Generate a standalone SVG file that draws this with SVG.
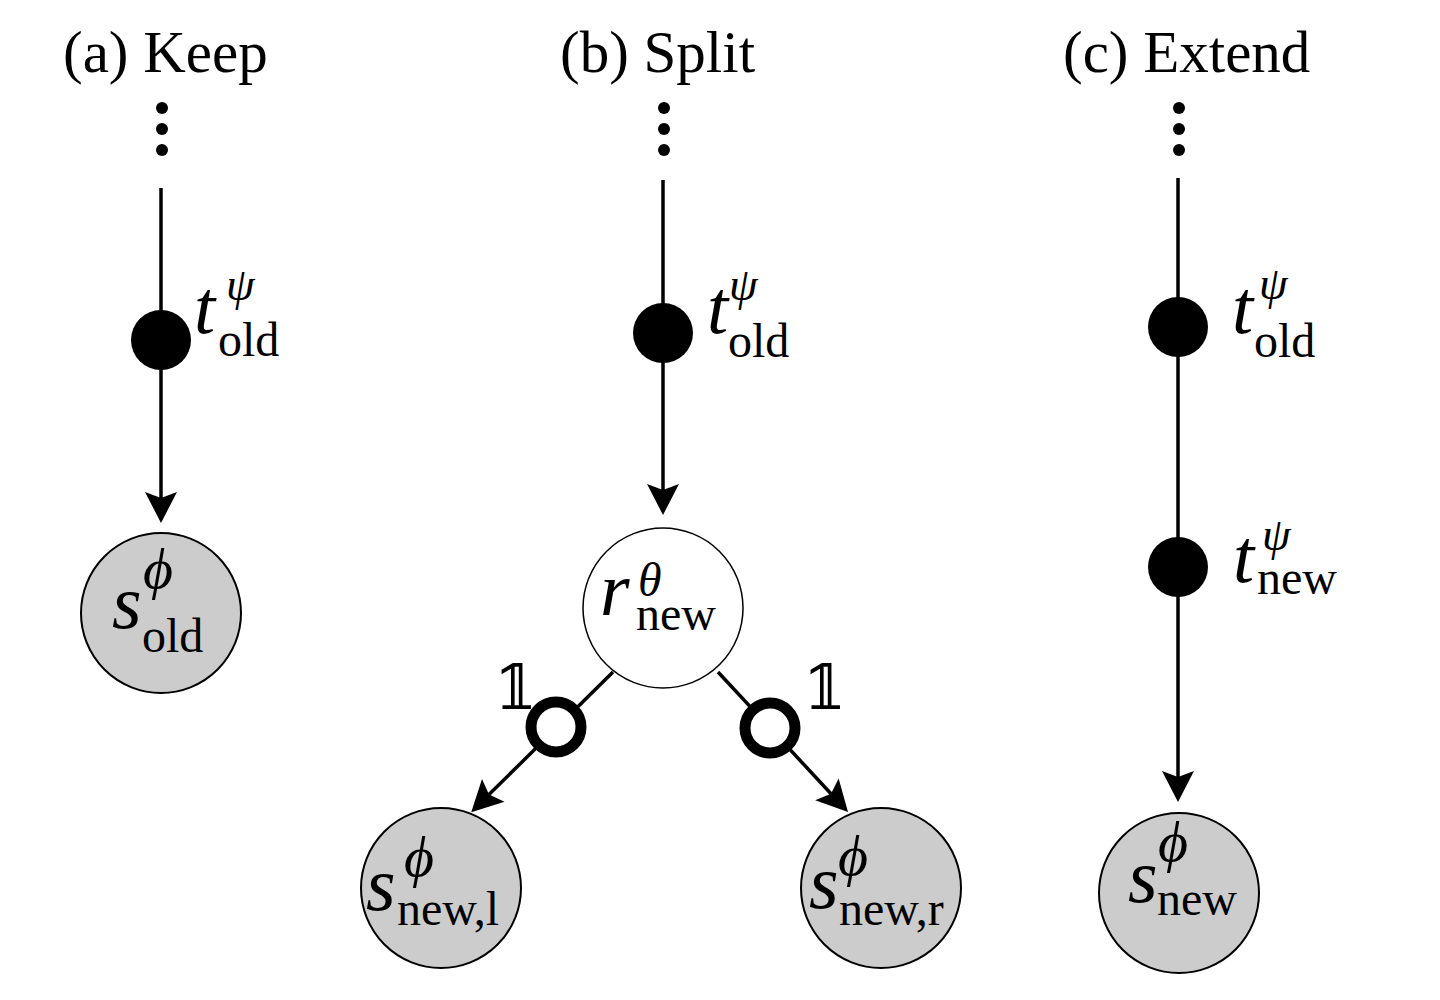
<svg xmlns="http://www.w3.org/2000/svg" width="1440" height="1000" viewBox="0 0 1440 1000">
<defs>
<style>
.ttl{font-family:"Liberation Serif","Times New Roman",serif;font-size:59px;fill:#000}
.it{font-family:"Liberation Serif","Times New Roman",serif;font-style:italic;font-size:76px;fill:#000}
.phi{font-family:"Liberation Serif","Times New Roman",serif;font-style:italic;font-size:58px;fill:#000}
.th{font-family:"Liberation Serif","Times New Roman",serif;font-style:italic;font-size:48px;fill:#000}
.psi{font-family:"Liberation Serif","Times New Roman",serif;font-style:italic;font-size:46px;fill:#000}
.sub{font-family:"Liberation Serif","Times New Roman",serif;font-size:48px;fill:#000}
.one{font-family:"DejaVu Serif","DejaVu Sans",serif;font-size:62px;fill:#000}
.edge{stroke:#000;stroke-width:3.5;fill:none}
.obs{fill:#cccccc;stroke:#000;stroke-width:2}
.lat{fill:#fff;stroke:#000;stroke-width:1.5}
.det{fill:#000}
.ring{fill:#fff;stroke:#000;stroke-width:11}
.dot{fill:#000}
</style>
<marker id="arr" markerUnits="userSpaceOnUse" viewBox="-35 -20 40 40" markerWidth="40" markerHeight="40" refX="-25" refY="0" orient="auto">
<path d="M0,0 L-31,-16 L-25,0 L-31,16 Z" fill="#000"/>
</marker>
</defs>
<rect width="1440" height="1000" fill="#fff"/>

<g id="titles">
<text class="ttl" x="63" y="72">(a) Keep</text>
<text class="ttl" x="560" y="72">(b) Split</text>
<text class="ttl" x="1063" y="72">(c) Extend</text>
</g>

<g id="ellipses">
<circle class="dot" cx="162" cy="108" r="6"/><circle class="dot" cx="162" cy="129" r="6"/><circle class="dot" cx="162" cy="150" r="6"/>
<circle class="dot" cx="664" cy="108" r="6"/><circle class="dot" cx="664" cy="129" r="6"/><circle class="dot" cx="664" cy="150" r="6"/>
<circle class="dot" cx="1179" cy="108" r="6"/><circle class="dot" cx="1179" cy="129" r="6"/><circle class="dot" cx="1179" cy="150" r="6"/>
</g>

<g id="connectors">
<line class="edge" x1="161" y1="188" x2="161" y2="498" marker-end="url(#arr)"/>
<line class="edge" x1="663" y1="180" x2="663" y2="490" marker-end="url(#arr)"/>
<line class="edge" x1="1178" y1="178" x2="1178" y2="777" marker-end="url(#arr)"/>
<line class="edge" x1="613" y1="672" x2="489" y2="794.6" marker-end="url(#arr)"/>
<line class="edge" x1="718" y1="672" x2="831" y2="793.7" marker-end="url(#arr)"/>
</g>

<g id="a-t-old">
<circle class="det" cx="161" cy="340" r="30"/>
<text class="it" x="194" y="333">t</text>
<text class="psi" x="226" y="300">ψ</text>
<text class="sub" x="218" y="356">old</text>
</g>
<g id="a-s-old">
<circle class="obs" cx="161" cy="613" r="80"/>
<text class="it" x="112" y="628">s</text>
<text class="phi" x="143" y="588">ϕ</text>
<text class="sub" x="142" y="652">old</text>
</g>

<g id="b-t-old">
<circle class="det" cx="663" cy="333" r="30"/>
<text class="it" x="707" y="333">t</text>
<text class="psi" x="729" y="300">ψ</text>
<text class="sub" x="728" y="357">old</text>
</g>
<g id="b-r-new">
<circle class="lat" cx="663" cy="608" r="80"/>
<text class="it" x="600" y="615">r</text>
<text class="th" x="638" y="596">θ</text>
<text class="sub" x="636" y="630">new</text>
</g>
<g id="b-ring-l">
<circle class="ring" cx="556" cy="727" r="25"/>
<text class="one" x="494" y="709">𝟙</text>
</g>
<g id="b-ring-r">
<circle class="ring" cx="770" cy="728" r="25"/>
<text class="one" x="803" y="709">𝟙</text>
</g>
<g id="b-s-new-l">
<circle class="obs" cx="441" cy="888" r="80"/>
<text class="it" x="366" y="910">s</text>
<text class="phi" x="404" y="876">ϕ</text>
<text class="sub" x="397" y="925">new,l</text>
</g>
<g id="b-s-new-r">
<circle class="obs" cx="881" cy="888" r="80"/>
<text class="it" x="809" y="908">s</text>
<text class="phi" x="838" y="875">ϕ</text>
<text class="sub" x="839" y="925">new,r</text>
</g>

<g id="c-t-old">
<circle class="det" cx="1178" cy="327" r="30"/>
<text class="it" x="1232" y="333">t</text>
<text class="psi" x="1259" y="299">ψ</text>
<text class="sub" x="1254" y="357">old</text>
</g>
<g id="c-t-new">
<circle class="det" cx="1178" cy="567" r="30"/>
<text class="it" x="1233" y="582">t</text>
<text class="psi" x="1262" y="550">ψ</text>
<text class="sub" x="1257" y="594">new</text>
</g>
<g id="c-s-new">
<circle class="obs" cx="1179" cy="893" r="80"/>
<text class="it" x="1128" y="902">s</text>
<text class="phi" x="1158" y="861">ϕ</text>
<text class="sub" x="1157" y="915">new</text>
</g>
</svg>
